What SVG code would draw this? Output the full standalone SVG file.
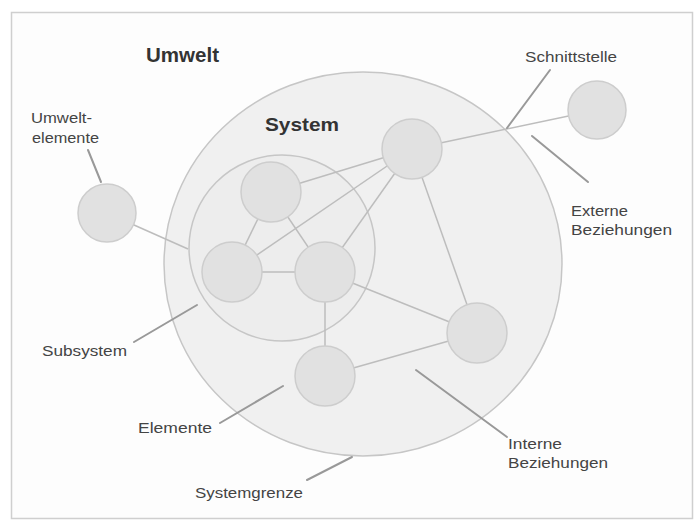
<svg xmlns="http://www.w3.org/2000/svg" width="698" height="527" viewBox="0 0 698 527">
<style>
.frame{fill:#fdfdfd;stroke:#cfcfcf;stroke-width:1.5}
.sys{fill:#f0f0f0;stroke:#c6c6c6;stroke-width:1.5}
.sub{fill:#ededed;stroke:#c6c6c6;stroke-width:1.5}
.node{fill:#e1e1e1;stroke:#cdcdcd;stroke-width:1.5}
.edge{stroke:#bdbdbd;stroke-width:1.5;fill:none}
.ptr{stroke:#999999;stroke-width:2;stroke-linecap:round;fill:none}
.lbl{font-family:"Liberation Sans",Arial,sans-serif;font-size:15px;fill:#444444}
.title{font-family:"Liberation Sans",Arial,sans-serif;font-weight:bold;fill:#333333}
</style>
<rect class="frame" x="11.5" y="12.5" width="681" height="506"/>
<g id="system"><ellipse class="sys" cx="363" cy="264" rx="199" ry="192"/></g>
<g id="subsystem"><circle class="sub" cx="282" cy="248" r="93"/></g>
<g id="connectors">
<line class="edge" x1="107" y1="213" x2="188" y2="249"/>
<line class="edge" x1="597" y1="110" x2="412" y2="149"/>
<line class="edge" x1="412" y1="149" x2="271" y2="192"/>
<line class="edge" x1="412" y1="149" x2="232" y2="272"/>
<line class="edge" x1="412" y1="149" x2="325" y2="272"/>
<line class="edge" x1="412" y1="149" x2="477" y2="333"/>
<line class="edge" x1="271" y1="192" x2="232" y2="272"/>
<line class="edge" x1="271" y1="192" x2="325" y2="272"/>
<line class="edge" x1="232" y1="272" x2="325" y2="272"/>
<line class="edge" x1="325" y1="272" x2="477" y2="333"/>
<line class="edge" x1="325" y1="272" x2="325" y2="376"/>
<line class="edge" x1="325" y1="376" x2="477" y2="333"/>
</g>
<g id="node-ext-left"><circle class="node" cx="107" cy="213" r="29"/></g>
<g id="node-ext-right"><circle class="node" cx="597" cy="110" r="29"/></g>
<g id="node-top-right"><circle class="node" cx="412" cy="149" r="30"/></g>
<g id="node-sub-top"><circle class="node" cx="271" cy="192" r="30"/></g>
<g id="node-sub-left"><circle class="node" cx="232" cy="272" r="30"/></g>
<g id="node-sub-right"><circle class="node" cx="325" cy="272" r="30"/></g>
<g id="node-right"><circle class="node" cx="477" cy="333" r="30"/></g>
<g id="node-bottom"><circle class="node" cx="325" cy="376" r="30"/></g>
<g id="pointers">
<line class="ptr" x1="88" y1="150" x2="101" y2="182"/>
<line class="ptr" x1="550" y1="70" x2="507" y2="128"/>
<line class="ptr" x1="588" y1="182" x2="532" y2="136"/>
<line class="ptr" x1="134" y1="342" x2="197" y2="305"/>
<line class="ptr" x1="220" y1="423" x2="283" y2="386"/>
<line class="ptr" x1="307" y1="480" x2="352" y2="457"/>
<line class="ptr" x1="507" y1="437" x2="416" y2="370"/>
</g>
<g id="labels">
<text class="title" x="146" y="62" font-size="20" textLength="73" lengthAdjust="spacingAndGlyphs">Umwelt</text>
<text class="title" x="265" y="131" font-size="19" textLength="74" lengthAdjust="spacingAndGlyphs">System</text>
<text class="lbl" x="31" y="123" textLength="61" lengthAdjust="spacingAndGlyphs">Umwelt-</text>
<text class="lbl" x="32" y="143" textLength="67" lengthAdjust="spacingAndGlyphs">elemente</text>
<text class="lbl" x="525" y="62" textLength="92" lengthAdjust="spacingAndGlyphs">Schnittstelle</text>
<text class="lbl" x="571" y="216" textLength="57" lengthAdjust="spacingAndGlyphs">Externe</text>
<text class="lbl" x="571" y="235" textLength="101" lengthAdjust="spacingAndGlyphs">Beziehungen</text>
<text class="lbl" x="42" y="356" textLength="85" lengthAdjust="spacingAndGlyphs">Subsystem</text>
<text class="lbl" x="138" y="433" textLength="74" lengthAdjust="spacingAndGlyphs">Elemente</text>
<text class="lbl" x="195" y="498" textLength="108" lengthAdjust="spacingAndGlyphs">Systemgrenze</text>
<text class="lbl" x="508" y="449" textLength="54" lengthAdjust="spacingAndGlyphs">Interne</text>
<text class="lbl" x="508" y="468" textLength="100" lengthAdjust="spacingAndGlyphs">Beziehungen</text>
</g>
</svg>
